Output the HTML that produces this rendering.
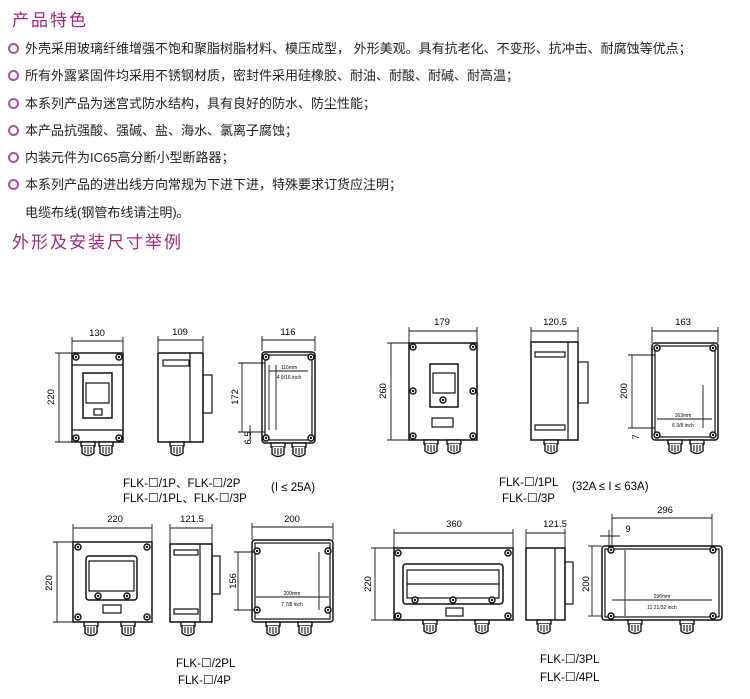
<!DOCTYPE html>
<html><head><meta charset="utf-8"><style>
body{margin:0;width:750px;height:699px;background:#fff;overflow:hidden;position:relative;font-family:"Liberation Sans","Noto Sans CJK SC",sans-serif}
.h{position:absolute;left:12px;color:#9a2a7e;font-size:17px;letter-spacing:2px;font-family:"Liberation Sans","Noto Sans CJK SC",sans-serif}
.b{position:absolute;left:8px;font-size:13px;color:#222;white-space:nowrap}
.b i{display:inline-block;width:7px;height:7px;border:2px solid #a3579a;border-radius:50%;margin-right:6px;vertical-align:-1px}
svg{position:absolute;left:0;top:0}
</style></head><body>
<div class="h" style="top:6px">产品特色</div>
<div class="b" style="top:38px"><i></i>外壳采用玻璃纤维增强不饱和聚脂树脂材料、模压成型， 外形美观。具有抗老化、不变形、抗冲击、耐腐蚀等优点；</div>
<div class="b" style="top:65px"><i></i>所有外露紧固件均采用不锈钢材质，密封件采用硅橡胶、耐油、耐酸、耐碱、耐高温；</div>
<div class="b" style="top:93px"><i></i>本系列产品为迷宫式防水结构，具有良好的防水、防尘性能；</div>
<div class="b" style="top:120px"><i></i>本产品抗强酸、强碱、盐、海水、氯离子腐蚀；</div>
<div class="b" style="top:147px"><i></i>内装元件为IC65高分断小型断路器；</div>
<div class="b" style="top:174px"><i></i>本系列产品的进出线方向常规为下进下进，特殊要求订货应注明；</div>
<div class="b" style="top:202px;left:25px">电缆布线(钢管布线请注明)。</div>
<div class="h" style="top:228px">外形及安装尺寸举例</div>
<svg width="750" height="699" font-family="Liberation Sans, Arial, sans-serif" fill="none" stroke="#111" stroke-width="1.2">
<defs>
<g id="gl"><rect x="0" y="0" width="14" height="4" fill="#fff" stroke-width="1.4"/><path d="M1 4 V11 Q7 16 13 11 V4" fill="#fff" stroke-width="1.4"/><path d="M4 5V11M7 5V12M10 5V11" stroke-width="1.1"/></g>
<g id="sc"><circle r="3" fill="#fff" stroke-width="1.5"/><circle r="1.2" fill="#111" stroke="none"/></g>
</defs>
<g stroke-width="0.9">
<line x1="72" y1="341" x2="123" y2="341"/><line x1="72" y1="337" x2="72" y2="352"/><line x1="123" y1="337" x2="123" y2="352"/>
<line x1="59" y1="353" x2="59" y2="442"/><line x1="55" y1="353" x2="72" y2="353"/><line x1="55" y1="442" x2="72" y2="442"/>
<line x1="158" y1="340" x2="203" y2="340"/><line x1="158" y1="336" x2="158" y2="352"/><line x1="203" y1="336" x2="203" y2="352"/>
<line x1="262" y1="340" x2="315" y2="340"/><line x1="262" y1="336" x2="262" y2="351"/><line x1="315" y1="336" x2="315" y2="351"/>
<line x1="242" y1="363" x2="242" y2="432"/><line x1="238" y1="363" x2="265" y2="363"/><line x1="238" y1="432" x2="265" y2="432"/>
<line x1="250" y1="425" x2="250" y2="440"/>
<line x1="269" y1="371" x2="308" y2="371"/><line x1="276" y1="365" x2="276" y2="430"/><line x1="269" y1="365" x2="269" y2="430"/>
</g>
<rect x="72" y="353" width="51" height="89" stroke-width="1.5"/>
<line x1="72" y1="365" x2="123" y2="365"/><line x1="72" y1="430" x2="123" y2="430"/>
<rect x="83" y="373" width="29" height="45" stroke-width="1.5"/><rect x="86" y="383" width="23" height="20"/><rect x="94" y="409" width="8" height="6"/>
<use href="#sc" x="76" y="357"/><use href="#sc" x="119" y="357"/><use href="#sc" x="76" y="438"/><use href="#sc" x="119" y="438"/>
<use href="#gl" x="81" y="442"/><use href="#gl" x="99" y="442"/>
<rect x="158" y="353" width="45" height="89" stroke-width="1.5"/><line x1="190" y1="353" x2="190" y2="442"/><rect x="163" y="360" width="26" height="6"/>
<rect x="203" y="375" width="9" height="38"/><use href="#gl" x="170" y="442"/>
<rect x="262" y="352" width="53" height="91" rx="3" stroke-width="1.5"/><rect x="265" y="355" width="47" height="85"/>
<use href="#sc" x="266" y="357"/><use href="#sc" x="311" y="357"/><use href="#sc" x="266" y="438"/><use href="#sc" x="311" y="438"/>
<use href="#gl" x="271" y="443"/><use href="#gl" x="292" y="443"/>
<g stroke-width="0.9">
<line x1="409" y1="331" x2="477" y2="331"/><line x1="409" y1="327" x2="409" y2="343"/><line x1="477" y1="327" x2="477" y2="343"/>
<line x1="391" y1="343" x2="391" y2="440"/><line x1="387" y1="343" x2="409" y2="343"/><line x1="387" y1="440" x2="409" y2="440"/>
<line x1="531" y1="331" x2="578" y2="331"/><line x1="531" y1="327" x2="531" y2="342"/><line x1="578" y1="327" x2="578" y2="342"/>
<line x1="652" y1="331" x2="718" y2="331"/><line x1="652" y1="327" x2="652" y2="343"/><line x1="718" y1="327" x2="718" y2="343"/>
<line x1="632" y1="355" x2="632" y2="428"/><line x1="628" y1="355" x2="655" y2="355"/><line x1="628" y1="428" x2="655" y2="428"/>
<line x1="657" y1="419" x2="712" y2="419"/><line x1="703" y1="385" x2="703" y2="428"/>
</g>
<rect x="409" y="343" width="68" height="97" stroke-width="1.5"/>
<rect x="430" y="364" width="28" height="43" stroke-width="1.5"/><rect x="433" y="373" width="22" height="20"/><rect x="432" y="418" width="21" height="9"/>
<use href="#sc" x="413" y="347"/><use href="#sc" x="473" y="347"/><use href="#sc" x="413" y="391"/><use href="#sc" x="473" y="391"/><use href="#sc" x="413" y="436"/><use href="#sc" x="473" y="436"/><use href="#sc" x="443" y="400"/>
<use href="#gl" x="424" y="440"/><use href="#gl" x="447" y="440"/>
<rect x="531" y="342" width="47" height="98" stroke-width="1.5"/><line x1="568" y1="342" x2="568" y2="440"/><rect x="535" y="352" width="30" height="5"/><rect x="535" y="425" width="30" height="5"/>
<rect x="578" y="362" width="10" height="41"/><use href="#gl" x="544" y="440"/>
<rect x="652" y="343" width="66" height="97" rx="3" stroke-width="1.5"/><rect x="655" y="346" width="60" height="91"/>
<use href="#sc" x="657" y="348"/><use href="#sc" x="713" y="348"/><use href="#sc" x="657" y="435"/><use href="#sc" x="713" y="435"/>
<use href="#gl" x="668" y="440"/><use href="#gl" x="690" y="440"/>
<g stroke-width="0.9">
<line x1="73" y1="528" x2="152" y2="528"/><line x1="73" y1="524" x2="73" y2="542"/><line x1="152" y1="524" x2="152" y2="542"/>
<line x1="57" y1="542" x2="57" y2="622"/><line x1="53" y1="542" x2="73" y2="542"/><line x1="53" y1="622" x2="73" y2="622"/>
<line x1="170" y1="528" x2="212" y2="528"/><line x1="170" y1="524" x2="170" y2="544"/><line x1="212" y1="524" x2="212" y2="544"/>
<line x1="252" y1="527" x2="333" y2="527"/><line x1="252" y1="523" x2="252" y2="540"/><line x1="333" y1="523" x2="333" y2="540"/>
<line x1="238" y1="552" x2="238" y2="610"/><line x1="234" y1="552" x2="258" y2="552"/><line x1="234" y1="610" x2="258" y2="610"/>
<line x1="256" y1="597" x2="329" y2="597"/><line x1="319" y1="552" x2="319" y2="610"/>
</g>
<rect x="73" y="542" width="79" height="80" stroke-width="1.5"/>
<rect x="86" y="556" width="51" height="44" rx="3" stroke-width="1.5"/><rect x="89" y="561" width="45" height="30"/><rect x="103" y="605" width="18" height="8"/>
<use href="#sc" x="78" y="547"/><use href="#sc" x="147" y="547"/><use href="#sc" x="78" y="617"/><use href="#sc" x="147" y="617"/><use href="#sc" x="98" y="596"/><use href="#sc" x="127" y="596"/>
<use href="#gl" x="84" y="622"/><use href="#gl" x="121" y="622"/>
<rect x="170" y="544" width="42" height="78" stroke-width="1.5"/><line x1="200" y1="544" x2="200" y2="622"/><rect x="174" y="550" width="24" height="5"/><rect x="174" y="609" width="24" height="5"/>
<rect x="212" y="556" width="8" height="38"/><use href="#gl" x="181" y="622"/>
<rect x="252" y="540" width="81" height="82" rx="3" stroke-width="1.5"/><rect x="255" y="543" width="75" height="76"/>
<use href="#sc" x="257" y="551"/><use href="#sc" x="328" y="551"/><use href="#sc" x="257" y="610"/><use href="#sc" x="328" y="610"/>
<use href="#gl" x="266" y="622"/><use href="#gl" x="298" y="622"/>
<g stroke-width="0.9">
<line x1="394" y1="533" x2="513" y2="533"/><line x1="394" y1="529" x2="394" y2="548"/><line x1="513" y1="529" x2="513" y2="548"/>
<line x1="375" y1="548" x2="375" y2="620"/><line x1="371" y1="548" x2="394" y2="548"/><line x1="371" y1="620" x2="394" y2="620"/>
<line x1="526" y1="533" x2="565" y2="533"/><line x1="526" y1="529" x2="526" y2="548"/><line x1="565" y1="529" x2="565" y2="548"/>
<line x1="612" y1="518" x2="712" y2="518"/><line x1="612" y1="514" x2="612" y2="548"/><line x1="712" y1="514" x2="712" y2="548"/>
<line x1="600" y1="536" x2="620" y2="536"/><line x1="609" y1="530" x2="609" y2="548"/>
<line x1="592" y1="546" x2="592" y2="616"/><line x1="588" y1="546" x2="602" y2="546"/><line x1="588" y1="616" x2="602" y2="616"/>
<line x1="612" y1="600" x2="712" y2="600"/><line x1="625" y1="550" x2="625" y2="616"/>
</g>
<rect x="394" y="548" width="119" height="72" stroke-width="1.5"/>
<rect x="403" y="564" width="100" height="40" rx="3" stroke-width="1.5"/><rect x="407" y="570" width="92" height="28"/><line x1="407" y1="584" x2="499" y2="584"/><rect x="446" y="608" width="17" height="8"/>
<use href="#sc" x="398" y="553"/><use href="#sc" x="508" y="553"/><use href="#sc" x="398" y="616"/><use href="#sc" x="508" y="616"/><use href="#sc" x="415" y="600"/><use href="#sc" x="453" y="600"/><use href="#sc" x="492" y="600"/>
<use href="#gl" x="423" y="620"/><use href="#gl" x="475" y="620"/>
<rect x="526" y="548" width="39" height="72" stroke-width="1.5"/><line x1="555" y1="548" x2="555" y2="620"/>
<rect x="565" y="562" width="8" height="42"/><use href="#gl" x="537" y="620"/>
<rect x="602" y="546" width="120" height="74" rx="3" stroke-width="1.5"/><rect x="605" y="549" width="114" height="68"/>
<use href="#sc" x="611" y="550"/><use href="#sc" x="713" y="550"/><use href="#sc" x="611" y="616"/><use href="#sc" x="713" y="616"/>
<use href="#gl" x="628" y="620"/><use href="#gl" x="680" y="620"/>
<g fill="#000" stroke="none" font-size="9.5">
<text x="97" y="336" text-anchor="middle">130</text><text x="180" y="335" text-anchor="middle">109</text><text x="288" y="335" text-anchor="middle">116</text>
<text transform="translate(54,397) rotate(-90)" text-anchor="middle">220</text><text transform="translate(238,397) rotate(-90)" text-anchor="middle">172</text><text transform="translate(251,438) rotate(-90)" text-anchor="middle">6.5</text>
<text x="442" y="325" text-anchor="middle">179</text><text x="555" y="325" text-anchor="middle">120.5</text><text x="683" y="325" text-anchor="middle">163</text>
<text transform="translate(386,391) rotate(-90)" text-anchor="middle">260</text><text transform="translate(627,391) rotate(-90)" text-anchor="middle">200</text><text transform="translate(639,437) rotate(-90)" text-anchor="middle">7</text>
<text x="115" y="522" text-anchor="middle">220</text><text x="192" y="522" text-anchor="middle">121.5</text><text x="292" y="522" text-anchor="middle">200</text>
<text transform="translate(52,583) rotate(-90)" text-anchor="middle">220</text><text transform="translate(236,581) rotate(-90)" text-anchor="middle">156</text>
<text x="454" y="527" text-anchor="middle">360</text><text x="555" y="527" text-anchor="middle">121.5</text><text x="665" y="513" text-anchor="middle">296</text><text x="628" y="532" text-anchor="middle">9</text>
<text transform="translate(371,584) rotate(-90)" text-anchor="middle">220</text><text transform="translate(589,584) rotate(-90)" text-anchor="middle">200</text>
<g font-size="5">
<text x="289" y="369" text-anchor="middle">116mm</text><text x="289" y="379" text-anchor="middle">4 9/16 inch</text>
<text x="683" y="417" text-anchor="middle">163mm</text><text x="683" y="427" text-anchor="middle">6 3/8 inch</text>
<text x="292" y="595" text-anchor="middle">200mm</text><text x="292" y="606" text-anchor="middle">7 7/8 inch</text>
<text x="662" y="598" text-anchor="middle">296mm</text><text x="662" y="609" text-anchor="middle">11 21/32 inch</text>
</g>
<g font-size="11.5">
<text x="123" y="487">FLK-<tspan font-size="12">☐</tspan>/1P、FLK-<tspan font-size="12">☐</tspan>/2P</text>
<text x="271" y="491">(I ≤ 25A)</text>
<text x="123" y="502">FLK-<tspan font-size="12">☐</tspan>/1PL、FLK-<tspan font-size="12">☐</tspan>/3P</text>
<text x="499" y="486">FLK-<tspan font-size="12">☐</tspan>/1PL</text><text x="572" y="490">(32A ≤ I ≤ 63A)</text>
<text x="502" y="502">FLK-<tspan font-size="12">☐</tspan>/3P</text>
<text x="176" y="667">FLK-<tspan font-size="12">☐</tspan>/2PL</text><text x="178" y="684">FLK-<tspan font-size="12">☐</tspan>/4P</text>
<text x="540" y="663">FLK-<tspan font-size="12">☐</tspan>/3PL</text><text x="540" y="681">FLK-<tspan font-size="12">☐</tspan>/4PL</text>
</g>
</g>
</svg>
</body></html>
